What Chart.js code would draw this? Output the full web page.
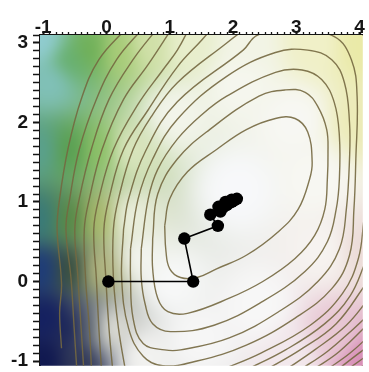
<!DOCTYPE html>
<html>
<head>
<meta charset="utf-8">
<script src="https://cdn.jsdelivr.net/npm/chart.js@4.4.0/dist/chart.umd.min.js"></script>
<style>
    html, body { margin: 0; padding: 0; background: #fff; }
    #wrap { width: 369px; height: 372px; }
</style>
</head>
<body>
<div id="wrap"><canvas id="chart"></canvas></div>
<script>
// ── Axes ───────────────────────────────────────────────
const xTicks = [-1, 0, 1, 2, 3, 4];
const yTicks = [-1, 0, 1, 2, 3];
const xRange = [-1.05, 4.05];
const yRange = [-1.06, 3.1];
const minorStep = 0.1;

// ── Descent path ───────────────────────────────────────
const pathX = [0.03, 1.37, 1.23, 1.76, 1.64, 1.80, 1.77, 1.84, 1.90, 1.88, 1.94, 1.98, 1.98, 2.02, 2.06];
const pathY = [0.00, 0.00, 0.54, 0.70, 0.84, 0.88, 0.94, 0.93, 0.96, 1.00, 0.99, 1.00, 1.03, 1.02, 1.04];

// ── Closed level curves, [x, y] ────────────────────────
const level1 = [[0.92,0.70],[0.94,0.38],[1.00,0.16],[1.17,0.05],[1.43,0.05],[1.74,0.16],[2.21,0.33],[2.72,0.63],[3.03,0.91],[3.21,1.29],[3.25,1.50],[3.18,1.88],[2.98,2.05],[2.67,2.05],[2.21,1.91],[1.74,1.66],[1.28,1.38],[1.00,1.04],[0.92,0.70]];
const level2 = [[0.73,0.54],[0.73,0.16],[0.81,-0.21],[0.97,-0.38],[1.28,-0.40],[1.94,-0.21],[2.47,0.00],[2.98,0.29],[3.29,0.58],[3.45,0.91],[3.49,1.29],[3.50,1.60],[3.48,1.91],[3.34,2.20],[3.14,2.38],[2.83,2.41],[2.41,2.33],[1.63,1.91],[1.12,1.54],[0.81,1.10],[0.73,0.54]];
const level3 = [[0.55,0.41],[0.55,0.04],[0.61,-0.28],[0.73,-0.53],[1.01,-0.63],[1.70,-0.55],[2.47,-0.25],[3.14,0.13],[3.49,0.50],[3.63,0.91],[3.68,1.29],[3.68,1.83],[3.60,2.25],[3.40,2.54],[3.09,2.66],[2.67,2.63],[1.90,2.33],[1.51,2.10],[1.12,1.79],[0.81,1.41],[0.66,1.04],[0.55,0.41]];
const level4 = [[0.38,0.41],[0.38,0.04],[0.42,-0.46],[0.58,-0.78],[0.92,-0.86],[1.17,-0.86],[1.94,-0.71],[2.72,-0.38],[3.34,0.00],[3.68,0.41],[3.79,0.91],[3.84,1.54],[3.84,2.00],[3.76,2.50],[3.56,2.79],[3.18,2.91],[2.67,2.88],[1.90,2.58],[1.12,2.04],[0.73,1.54],[0.50,1.04],[0.38,0.41]];
const level5 = [[0.27,0.66],[0.24,0.04],[0.35,-0.59],[0.58,-0.94],[0.89,-1.06],[1.43,-1.00],[2.21,-0.80],[2.98,-0.46],[3.56,-0.09],[3.84,0.33],[3.91,0.91],[3.94,1.54],[3.96,2.33],[3.87,2.79],[3.60,3.08],[2.98,3.16],[2.39,3.10],[2.16,2.91],[1.12,2.26],[0.63,1.66],[0.35,1.04],[0.27,0.66]];

// ── Open level curves cut by the frame: left / top arcs ─
const level6 = [[0.32,-1.21],[0.19,-0.59],[0.11,0.04],[0.11,0.66],[0.19,1.04],[0.42,1.66],[0.73,2.10],[1.12,2.50],[1.90,3.00],[2.21,3.19]];
const level7 = [[0.11,-1.21],[0.04,-0.59],[-0.01,0.04],[-0.04,0.66],[0.04,1.04],[0.27,1.66],[0.66,2.16],[1.12,2.70],[1.51,3.04],[1.67,3.19]];
const level8 = [[-0.07,-1.21],[-0.12,-0.59],[-0.16,0.04],[-0.20,0.66],[-0.12,1.04],[0.11,1.66],[0.50,2.23],[0.89,2.66],[1.12,2.91],[1.31,3.19]];
const level9 = [[-0.23,-1.21],[-0.27,-0.59],[-0.33,0.04],[-0.35,0.66],[-0.27,1.04],[-0.07,1.66],[0.27,2.29],[0.66,2.73],[1.04,3.19]];
const level10 = [[-0.35,-1.21],[-0.40,-0.59],[-0.45,0.04],[-0.50,0.66],[-0.43,1.04],[-0.24,1.66],[0.04,2.29],[0.42,2.79],[0.81,3.19]];
const level11 = [[-0.46,-1.21],[-0.51,-0.59],[-0.56,0.04],[-0.64,0.66],[-0.58,1.04],[-0.43,1.66],[-0.16,2.29],[0.16,2.79],[0.58,3.19]];
const level12 = [[-0.71,-0.84],[-0.74,-0.40],[-0.71,-0.03],[-0.78,0.66],[-0.74,1.04],[-0.61,1.66],[-0.40,2.29],[-0.12,2.79],[0.32,3.19]];

// ── Open level curves: lower right corner ──────────────
const corner6 = [[1.82,-1.11],[2.44,-0.90],[3.22,-0.55],[3.73,-0.15],[3.98,0.29],[4.07,0.79]];
const corner7 = [[2.21,-1.11],[2.83,-0.86],[3.45,-0.53],[3.85,-0.18],[4.10,0.26]];
const corner8 = [[2.52,-1.11],[3.06,-0.86],[3.63,-0.53],[4.10,-0.03]];
const corner9 = [[2.83,-1.11],[3.29,-0.86],[3.79,-0.55],[4.15,-0.21]];
const corner10 = [[3.06,-1.11],[3.49,-0.88],[3.91,-0.59],[4.19,-0.38]];
const corner11 = [[3.26,-1.11],[3.68,-0.88],[4.19,-0.49]];
const corner12 = [[3.48,-1.11],[3.85,-0.90],[4.22,-0.63]];
const corner13 = [[3.65,-1.11],[3.99,-0.90],[4.25,-0.75]];
const corner14 = [[3.80,-1.11],[4.28,-0.84]];
const corner15 = [[3.94,-1.11],[4.32,-0.94]];

const levelCurves = [level1, level2, level3, level4, level5, level6, level7, level8, level9, level10, level11, level12,
    corner6, corner7, corner8, corner9, corner10, corner11, corner12, corner13, corner14, corner15];

// ── Style: colour wash behind the curves (data position, colour) ──
const washStops = [
    [-1.02, 3.01, '#90ccd0'], [-0.89, 2.54, '#80c0b8'], [-0.58, 2.79, '#68b070'], [-0.27, 2.91, '#70b058'],
    [0.19, 2.91, '#a8cc78'], [0.66, 2.98, '#d0e0a8'], [1.28, 2.98, '#e8eecc'], [2.21, 2.98, '#f2f4e6'],
    [3.29, 2.98, '#f0f0c8'], [4.01, 2.98, '#eaeaa8'], [4.01, 2.04, '#ecebb8'],
    [-1.05, 1.66, '#5aa08c'], [-0.58, 1.66, '#5aa052'], [-0.12, 1.66, '#8cc068'], [0.35, 1.66, '#d8e4bc'],
    [-1.05, 0.79, '#3a7a78'], [-0.58, 0.79, '#588a48'], [-0.12, 0.79, '#a8b86c'], [0.35, 0.79, '#eaeedc'],
    [-1.02, 0.16, '#1e3c78'], [-0.58, 0.16, '#3a5040'], [-0.12, 0.16, '#b0b480'],
    [-0.97, -0.46, '#142060'], [-0.58, -0.59, '#1e2858'], [-0.27, -0.59, '#606870'], [0.04, -0.59, '#dcdcd4'],
    [-0.97, -0.99, '#101850'], [-0.45, -0.99, '#303858'],
    [2.05, 1.16, '#f7f8fa'], [1.43, -0.71, '#f6f6f6'], [2.98, 2.04, '#f7f7f3'], [3.45, 0.41, '#f6f3f0'],
    [1.00, 0.00, '#f7f8f8'], [1.10, 2.10, '#f2f4ea'], [2.40, -0.30, '#f7f7f7'], [3.30, 1.30, '#f7f7f2'],
    [0.60, -0.95, '#f2f2f0'], [2.10, 2.50, '#f5f6ee'], [0.55, 0.30, '#f2f4ee'],
    [4.01, 0.41, '#ecdcd8'], [3.60, -0.71, '#e8c8d4'], [4.01, -0.99, '#d890b8'], [2.98, -0.96, '#f2e8ec']
];

function hexRgb(h) {
    return [parseInt(h.slice(1, 3), 16), parseInt(h.slice(3, 5), 16), parseInt(h.slice(5, 7), 16)];
}

let washCanvas = null;
const washMargin = 20;

const washPlugin = {
    id: 'wash',
    beforeDatasetsDraw(chart) {
        const area = chart.chartArea;
        const sx = chart.scales.x, sy = chart.scales.y;
        const m = washMargin;
        const w = Math.round(area.right - area.left) + 2 * m, h = Math.round(area.bottom - area.top) + 2 * m;
        if (!washCanvas) {
            const stops = washStops.map(s => ({
                px: sx.getPixelForValue(s[0]) - area.left + m,
                py: sy.getPixelForValue(s[1]) - area.top + m,
                rgb: hexRgb(s[2])
            }));
            washCanvas = document.createElement('canvas');
            washCanvas.width = w;
            washCanvas.height = h;
            const wctx = washCanvas.getContext('2d');
            const img = wctx.createImageData(w, h);
            for (let j = 0; j < h; j++) {
                for (let i = 0; i < w; i++) {
                    let r = 0, g = 0, b = 0, tot = 0;
                    for (const s of stops) {
                        const d2 = (i - s.px) * (i - s.px) + (j - s.py) * (j - s.py) + 30;
                        const wt = 1 / (d2 * d2);
                        r += s.rgb[0] * wt; g += s.rgb[1] * wt; b += s.rgb[2] * wt; tot += wt;
                    }
                    const k = (j * w + i) * 4;
                    img.data[k] = r / tot; img.data[k + 1] = g / tot; img.data[k + 2] = b / tot; img.data[k + 3] = 255;
                }
            }
            wctx.putImageData(img, 0, 0);
        }
        const ctx = chart.ctx;
        ctx.save();
        ctx.beginPath();
        ctx.rect(area.left, area.top, area.right - area.left, area.bottom - area.top);
        ctx.clip();
        ctx.filter = 'blur(7px)';
        ctx.drawImage(washCanvas, area.left - m, area.top - m);
        ctx.restore();
    }
};

const ink = '#151515';

// small ticks every 0.1 along the top axis
const minorTickPlugin = {
    id: 'minorTicks',
    afterDraw(chart) {
        const sx = chart.scales.x;
        const ctx = chart.ctx;
        const top = chart.chartArea.top;
        ctx.save();
        ctx.strokeStyle = ink;
        ctx.lineWidth = 1.3;
        const n = Math.round((xRange[1] - xRange[0]) / minorStep);
        for (let k = 0; k <= n; k++) {
            const v = Math.round((xTicks[0] + k * minorStep) * 10) / 10;
            if (v > xRange[1]) break;
            const px = Math.round(sx.getPixelForValue(v)) + 0.5;
            ctx.beginPath();
            ctx.moveTo(px, top);
            ctx.lineTo(px, top - 3);
            ctx.stroke();
        }
        ctx.restore();
    }
};

const labelFont = { family: "'Liberation Sans', Arial, sans-serif", size: 19, weight: 'bold' };

function tickLabel(list) {
    return v => {
        const t = list.find(t => Math.abs(t - v) < 1e-6);
        return t === undefined ? '' : String(t);
    };
}
function isMajor(list, v) {
    return list.some(t => Math.abs(t - v) < 1e-6);
}

const datasets = [{
    data: pathX.map((x, i) => ({ x, y: pathY[i] })),
    showLine: true,
    borderColor: '#000',
    borderWidth: 1.6,
    pointRadius: 6.2,
    pointBackgroundColor: '#000',
    pointBorderWidth: 0,
    tension: 0,
    clip: 0
}];

levelCurves.forEach(c => {
    datasets.push({
        data: c.map(p => ({ x: p[0], y: p[1] })),
        showLine: true,
        borderColor: 'rgba(116,104,64,0.9)',
        borderWidth: 1.4,
        pointRadius: 0,
        tension: 0.4,
        clip: 0
    });
});

new Chart(document.getElementById('chart'), {
    type: 'scatter',
    data: { datasets },
    options: {
        responsive: true,
        maintainAspectRatio: false,
        animation: false,
        events: [],
        layout: { padding: { left: 0, top: 0, right: 0, bottom: 4 } },
        elements: { line: { capBezierPoints: false } },
        plugins: { legend: { display: false }, tooltip: { enabled: false } },
        scales: {
            x: {
                type: 'linear',
                position: 'top',
                min: xRange[0],
                max: xRange[1],
                afterBuildTicks: s => { s.ticks = xTicks.map(v => ({ value: v })); },
                ticks: {
                    autoSkip: false, maxRotation: 0,
                    color: ink, font: labelFont, padding: -7,
                    callback: v => String(v)
                },
                grid: {
                    drawOnChartArea: false, drawTicks: true, tickLength: 3, tickColor: ink, tickWidth: 2
                },
                border: { display: true, color: ink, width: 2 },
                afterFit: s => { s.height = 35; s.paddingLeft = 0; s.paddingRight = 0; }
            },
            y: {
                type: 'linear',
                position: 'left',
                min: yRange[0],
                max: yRange[1],
                ticks: {
                    stepSize: minorStep, autoSkip: false, includeBounds: false,
                    color: ink, font: labelFont, padding: 5,
                    callback: tickLabel(yTicks)
                },
                grid: {
                    drawOnChartArea: false, drawTicks: true, tickLength: 7, tickColor: ink,
                    tickWidth: ctx => isMajor(yTicks, ctx.tick.value) ? 2 : 1.5
                },
                border: { display: true, color: ink, width: 2 },
                afterFit: s => { s.width = 40; s.paddingTop = 0; s.paddingBottom = 0; }
            }
        }
    },
    plugins: [washPlugin, minorTickPlugin]
});
</script>
</body>
</html>
